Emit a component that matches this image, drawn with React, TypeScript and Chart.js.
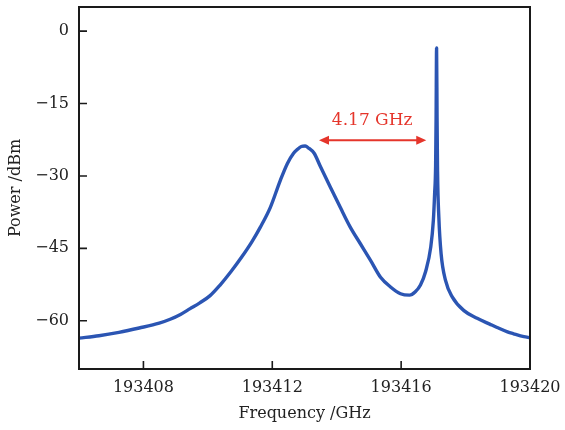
import React, { useEffect, useRef } from 'react';
import { Chart, registerables } from 'chart.js';

Chart.register(...registerables);

const freqGHz = [
  193406.0, 193406.62, 193407.24, 193407.87, 193408.49, 193408.83, 193409.15, 193409.45,
  193409.75, 193410.07, 193410.38, 193410.72, 193411.05, 193411.37, 193411.63, 193411.94,
  193412.25, 193412.47, 193412.65, 193412.78, 193412.9, 193413.02, 193413.14, 193413.3,
  193413.49, 193413.8, 193414.11, 193414.42, 193414.73, 193415.05, 193415.36, 193415.67,
  193415.98, 193416.26, 193416.44, 193416.6, 193416.76, 193416.92, 193417.0, 193417.04,
  193417.07, 193417.085, 193417.1, 193417.115, 193417.13, 193417.17, 193417.24, 193417.38,
  193417.59, 193417.95, 193418.36, 193418.75, 193418.98, 193419.3, 193419.49, 193419.81,
  193420.0,
];
const powerDbm = [
  -63.6, -63.1, -62.4, -61.5, -60.5, -59.7, -58.7, -57.5,
  -56.3, -54.8, -52.6, -49.8, -46.8, -43.6, -40.6, -36.5,
  -30.9, -27.4, -25.4, -24.5, -23.9, -23.8, -24.3, -25.3,
  -28.0, -32.3, -36.5, -40.6, -44.0, -47.5, -51.0, -53.0,
  -54.4, -54.7, -54.0, -52.6, -49.8, -44.7, -39.2, -33.6,
  -28.0, -18.0, -3.5, -18.0, -29.0, -38.5, -46.1, -51.7,
  -55.1, -57.9, -59.5, -60.7, -61.4, -62.3, -62.7, -63.3,
  -63.5,
];

const xTicks = [193408, 193412, 193416, 193420];
const yTicks = [0, -15, -30, -45, -60];

// Annotation: spacing arrow between the broad and the narrow peak
const arrowFromGHz = 193413.45;
const arrowToGHz = 193416.78;
const arrowLevelDbm = -22.6;
const annotationText = '4.17 GHz';
const annotationGHz = 193415.1;
const annotationDbm = -18.6;

const FONT = '"DejaVu Serif", "Liberation Serif", serif';
const RED = '#e5352b';
const BLUE = '#2b55b3';

const decorPlugin = {
  id: 'decor',
  afterDraw(chart: any) {
    const { ctx, chartArea: a, scales } = chart;
    const xs = scales.x;
    const ys = scales.y;
    ctx.save();

    // arrow
    const x1 = xs.getPixelForValue(arrowFromGHz);
    const x2 = xs.getPixelForValue(arrowToGHz);
    const y = ys.getPixelForValue(arrowLevelDbm);
    const hl = 10;
    const hw = 4.5;
    ctx.strokeStyle = RED;
    ctx.fillStyle = RED;
    ctx.lineWidth = 2;
    ctx.beginPath();
    ctx.moveTo(x1 + hl - 2, y);
    ctx.lineTo(x2 - hl + 2, y);
    ctx.stroke();
    ctx.beginPath();
    ctx.moveTo(x1, y);
    ctx.lineTo(x1 + hl, y - hw);
    ctx.lineTo(x1 + hl, y + hw);
    ctx.closePath();
    ctx.fill();
    ctx.beginPath();
    ctx.moveTo(x2, y);
    ctx.lineTo(x2 - hl, y - hw);
    ctx.lineTo(x2 - hl, y + hw);
    ctx.closePath();
    ctx.fill();

    ctx.font = `17px ${FONT}`;
    ctx.textAlign = 'center';
    ctx.textBaseline = 'middle';
    ctx.fillText(annotationText, xs.getPixelForValue(annotationGHz), ys.getPixelForValue(annotationDbm));

    // frame
    ctx.strokeStyle = '#1a1a1a';
    ctx.lineWidth = 2;
    ctx.strokeRect(a.left, a.top, a.right - a.left, a.bottom - a.top);

    // inward ticks
    ctx.lineWidth = 1.6;
    const tl = 8;
    ctx.beginPath();
    for (const t of xs.ticks) {
      const px = xs.getPixelForValue(t.value);
      ctx.moveTo(px, a.bottom);
      ctx.lineTo(px, a.bottom - tl);
    }
    for (const t of ys.ticks) {
      const py = ys.getPixelForValue(t.value);
      ctx.moveTo(a.left, py);
      ctx.lineTo(a.left + tl, py);
    }
    ctx.stroke();
    ctx.restore();
  },
};

export default function App() {
  const canvasRef = useRef<HTMLCanvasElement | null>(null);

  useEffect(() => {
    const canvas = canvasRef.current;
    if (!canvas) return;
    const points = freqGHz.map((f, i) => ({ x: f, y: powerDbm[i] }));
    const tickFont = { family: FONT, size: 16 };
    const chart = new Chart(canvas, {
      type: 'line',
      data: {
        datasets: [
          {
            data: points,
            borderColor: BLUE,
            borderWidth: 3.4,
            pointRadius: 0,
            cubicInterpolationMode: 'monotone',
            fill: false,
            borderJoinStyle: 'round',
            borderCapStyle: 'round',
          },
        ],
      },
      options: {
        animation: false,
        responsive: false,
        maintainAspectRatio: false,
        layout: { padding: { top: 7, right: 35, bottom: 0, left: 0 } },
        plugins: { legend: { display: false }, tooltip: { enabled: false } },
        scales: {
          x: {
            type: 'linear',
            min: 193406,
            max: 193420,
            grid: { display: false, drawTicks: false },
            border: { display: false },
            afterBuildTicks: (s: any) => {
              s.ticks = xTicks.map((v) => ({ value: v }));
            },
            afterFit: (s: any) => {
              s.height = 61;
              s.paddingLeft = 0;
              s.paddingRight = 0;
            },
            ticks: {
              font: tickFont,
              color: '#222',
              padding: 9,
              maxRotation: 0,
              autoSkip: false,
              callback: (v: any) => String(v),
            },
            title: {
              display: true,
              text: 'Frequency /GHz',
              font: tickFont,
              color: '#222',
              padding: { top: 0, bottom: 7 },
            },
          },
          y: {
            type: 'linear',
            min: -70,
            max: 5,
            grid: { display: false, drawTicks: false },
            border: { display: false },
            afterBuildTicks: (s: any) => {
              s.ticks = yTicks.map((v) => ({ value: v }));
            },
            afterFit: (s: any) => {
              s.width = 79;
              s.paddingTop = 0;
              s.paddingBottom = 0;
            },
            ticks: {
              font: tickFont,
              color: '#222',
              padding: 10,
              autoSkip: false,
              callback: (v: any) => (v < 0 ? '\u2212' + Math.abs(v) : String(v)),
            },
            title: {
              display: true,
              text: 'Power /dBm',
              font: tickFont,
              color: '#222',
              padding: { top: 6, bottom: 0 },
            },
          },
        },
      },
      plugins: [decorPlugin],
    });
    return () => chart.destroy();
  }, []);

  return (
    <div style={{ position: 'fixed', left: 0, top: 0, width: 565, height: 430, background: '#fff' }}>
      <canvas ref={canvasRef} width={565} height={430} style={{ display: 'block' }} />
    </div>
  );
}
